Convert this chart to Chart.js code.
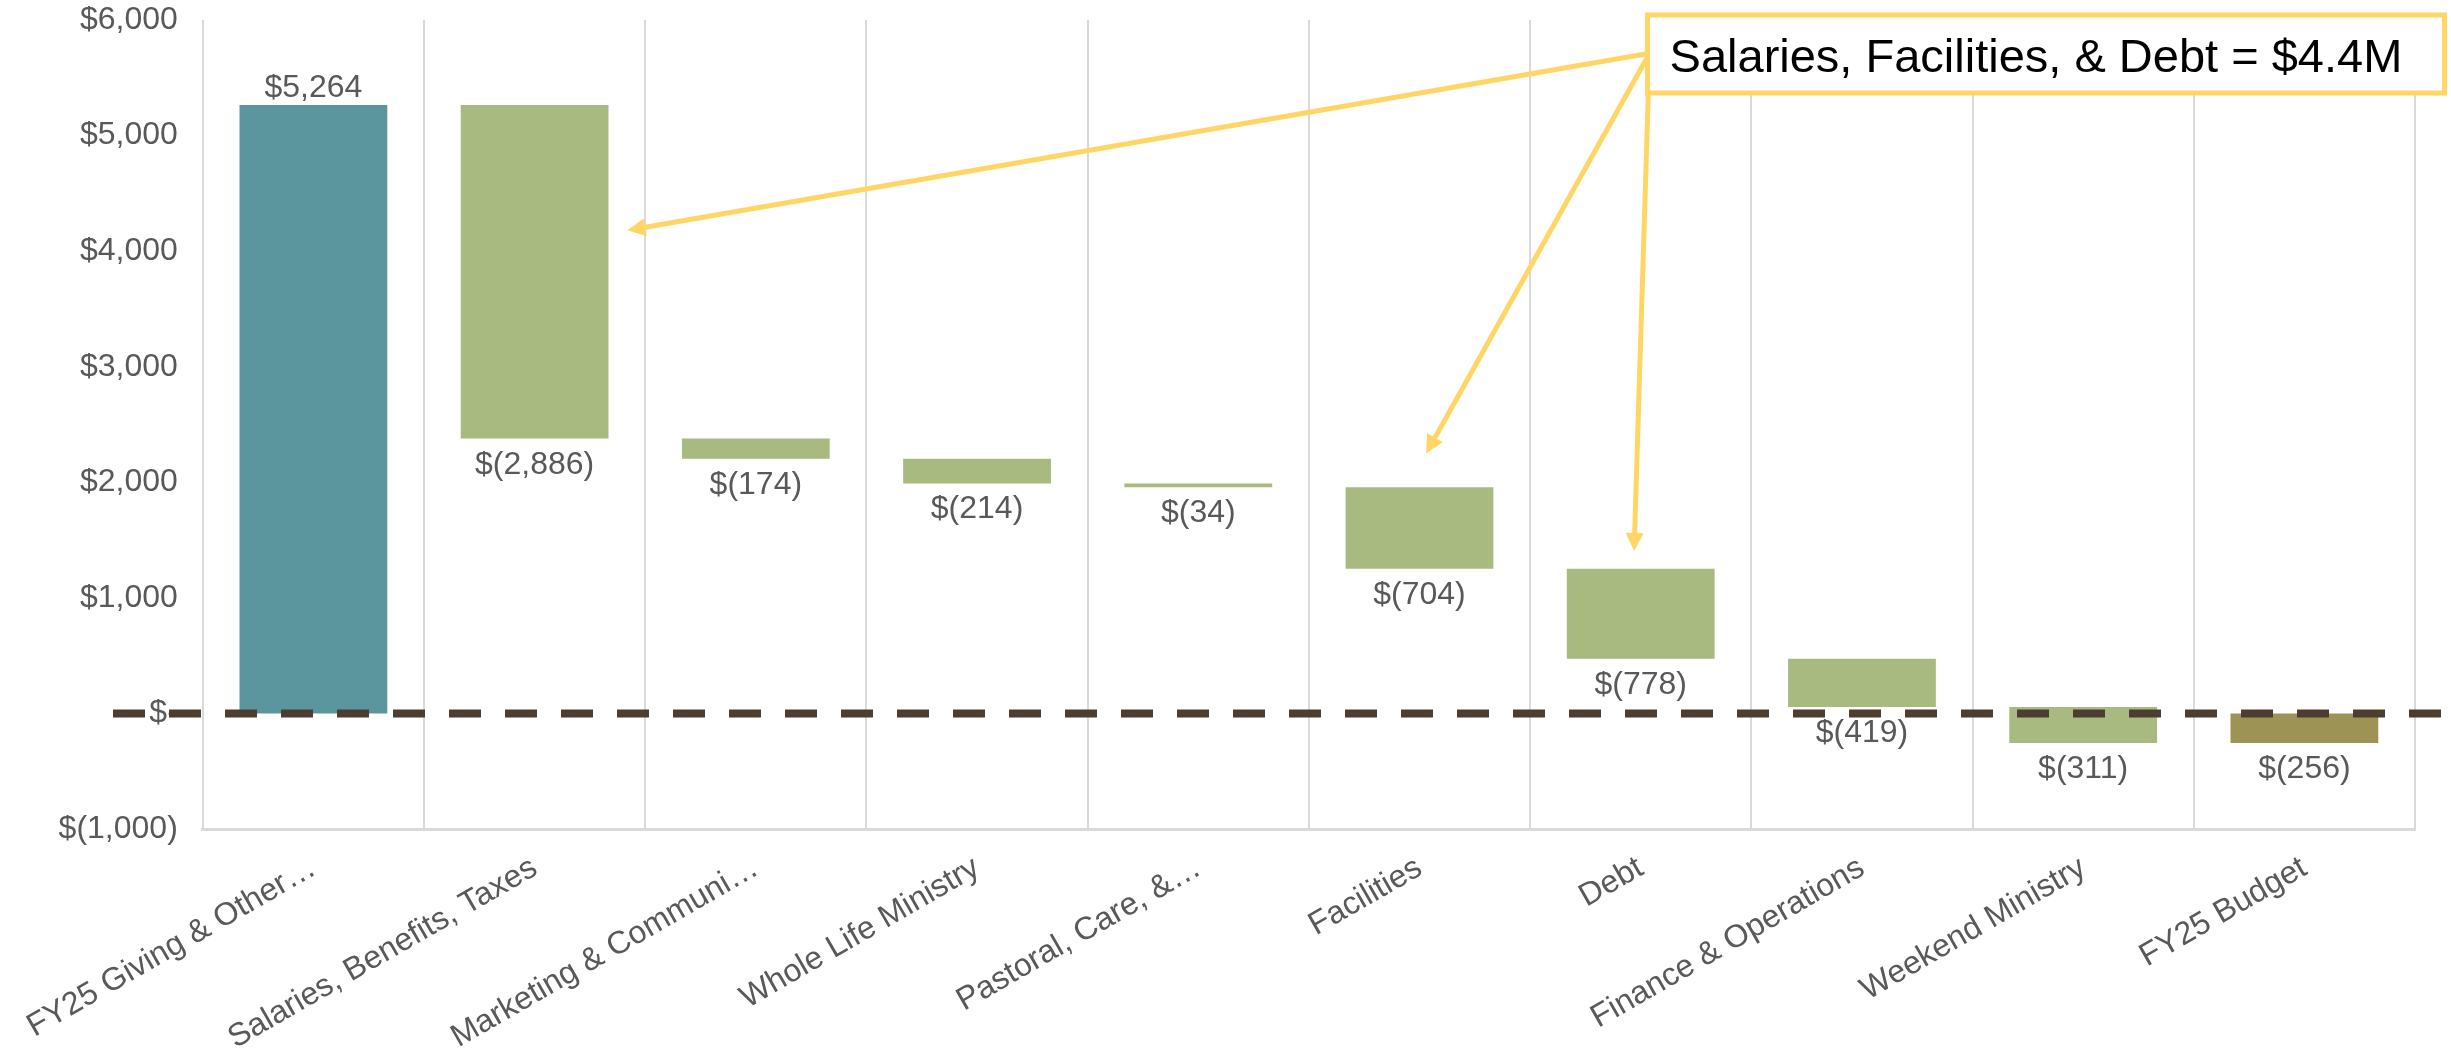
<!DOCTYPE html>
<html>
<head>
<meta charset="utf-8">
<script src="https://cdn.jsdelivr.net/npm/chart.js@4.4.1/dist/chart.umd.min.js"></script>
<style>
  html, body { margin: 0; padding: 0; background: #fff; }
  #wrap { width: 2451px; height: 1049px; }
</style>
</head>
<body>
<div id="wrap"><canvas id="budgetWaterfall" width="2451" height="1049"></canvas></div>
<script>
// ===================== Data =====================
const categories = [
    'FY25 Giving & Other\u2026',
    'Salaries, Benefits, Taxes',
    'Marketing & Communi\u2026',
    'Whole Life Ministry',
    'Pastoral, Care, &\u2026',
    'Facilities',
    'Debt',
    'Finance & Operations',
    'Weekend Ministry',
    'FY25 Budget'
];
const startTotal = 5264;
const changes = [-2886, -174, -214, -34, -704, -778, -419, -311];
const endTotal = -256;
const yTicks = [-1000, 0, 1000, 2000, 3000, 4000, 5000, 6000];
const yTickLabels = ['$(1,000)', '$-', '$1,000', '$2,000', '$3,000', '$4,000', '$5,000', '$6,000'];
const calloutText = 'Salaries, Facilities, & Debt = $4.4M';

// build floating bars for the waterfall
const bars = [[0, startTotal]];
const barValues = [startTotal];
let running = startTotal;
changes.forEach(c => {
    bars.push([running, running + c]);
    barValues.push(c);
    running += c;
});
bars.push([0, endTotal]);
barValues.push(endTotal);

const barColors = barValues.map((v, i) => {
    if (i === 0) return '#5B969F';
    if (i === barValues.length - 1) return '#9D9354';
    return '#A9BA80';
});

const FONT = "'Liberation Sans', Arial, sans-serif";
const TEXT_GRAY = '#595959';

function money(v) {
    const s = Math.abs(v).toLocaleString('en-US');
    if (v === 0) return '$-';
    return v < 0 ? '$(' + s + ')' : '$' + s;
}

// ===================== Plugins =====================
const waterfallExtras = {
    id: 'waterfallExtras',
    afterDatasetsDraw(chart) {
        const { ctx, scales: { y } } = chart;
        const zero = y.getPixelForValue(0);

        // dashed zero line
        ctx.save();
        ctx.strokeStyle = '#4D3D31';
        ctx.lineWidth = 8;
        ctx.setLineDash([32, 24]);
        ctx.beginPath();
        ctx.moveTo(113, zero);
        ctx.lineTo(chart.width, zero);
        ctx.stroke();
        ctx.restore();

        // value labels
        ctx.save();
        ctx.font = '32px ' + FONT;
        ctx.fillStyle = TEXT_GRAY;
        ctx.textAlign = 'center';
        ctx.textBaseline = 'alphabetic';
        chart.getDatasetMeta(0).data.forEach((bar, i) => {
            const v = barValues[i];
            const top = Math.min(bar.y, bar.base);
            const bottom = Math.max(bar.y, bar.base);
            ctx.fillText(money(v), bar.x, v >= 0 ? top - 8 : bottom + 35);
        });
        ctx.restore();
    },
    afterDraw(chart) {
        const { ctx, scales: { x, y } } = chart;
        const ox = x.getPixelForValue(6.04);
        const oy = y.getPixelForValue(5712);
        const targets = [[1.42, 4180], [5.03, 2250], [5.97, 1405]];

        ctx.save();
        ctx.strokeStyle = '#FFD666';
        ctx.fillStyle = '#FFD666';
        ctx.lineWidth = 5;
        targets.forEach(([tx, tv]) => {
            const px = x.getPixelForValue(tx);
            const py = y.getPixelForValue(tv);
            const ang = Math.atan2(py - oy, px - ox);
            const head = 18, half = 9;
            const bx = px - head * Math.cos(ang);
            const by = py - head * Math.sin(ang);
            ctx.beginPath();
            ctx.moveTo(ox, oy);
            ctx.lineTo(bx, by);
            ctx.stroke();
            ctx.beginPath();
            ctx.moveTo(px, py);
            ctx.lineTo(bx + half * Math.sin(ang), by - half * Math.cos(ang));
            ctx.lineTo(bx - half * Math.sin(ang), by + half * Math.cos(ang));
            ctx.closePath();
            ctx.fill();
        });

        // callout box
        const bxLeft = ox - 2, bxTop = 15, bw = 797, bh = 78;
        ctx.fillStyle = '#ffffff';
        ctx.fillRect(bxLeft, bxTop, bw, bh);
        ctx.strokeStyle = '#FFD666';
        ctx.lineWidth = 5;
        ctx.strokeRect(bxLeft, bxTop, bw, bh);
        ctx.fillStyle = '#000000';
        ctx.font = '47px ' + FONT;
        ctx.textAlign = 'left';
        ctx.textBaseline = 'alphabetic';
        ctx.fillText(calloutText, bxLeft + 22, 72);
        ctx.restore();
    }
};

// ===================== Chart =====================
const ctx = document.getElementById('budgetWaterfall').getContext('2d');
const budgetChart = new Chart(ctx, {
    type: 'bar',
    data: {
        labels: categories,
        datasets: [{
            data: bars,
            backgroundColor: barColors,
            borderWidth: 0,
            categoryPercentage: 1,
            barPercentage: 0.668
        }]
    },
    options: {
        responsive: false,
        devicePixelRatio: 1,
        animation: false,
        layout: { padding: { top: 20, right: 36, left: 0, bottom: 0 } },
        plugins: {
            legend: { display: false },
            tooltip: { enabled: false }
        },
        scales: {
            x: {
                grid: { color: '#D9D9D9', lineWidth: 2, drawTicks: false },
                border: { color: '#D9D9D9', width: 3 },
                ticks: {
                    autoSkip: false,
                    minRotation: 30,
                    maxRotation: 30,
                    padding: 20,
                    color: TEXT_GRAY,
                    font: { family: FONT, size: 32 }
                },
                afterFit(scale) { scale.height = 220; }
            },
            y: {
                min: -1000,
                max: 6000,
                grid: { display: false },
                border: { display: false },
                afterBuildTicks(scale) {
                    scale.ticks = yTicks.map(v => ({ value: v }));
                },
                ticks: {
                    padding: 17,
                    color: TEXT_GRAY,
                    font: { family: FONT, size: 32 },
                    callback: (value) => yTickLabels[yTicks.indexOf(value)]
                },
                afterFit(scale) {
                    scale.width = 200;
                    scale.paddingTop = 0;
                    scale.paddingBottom = 0;
                }
            }
        }
    },
    plugins: [waterfallExtras]
});
</script>
</body>
</html>
